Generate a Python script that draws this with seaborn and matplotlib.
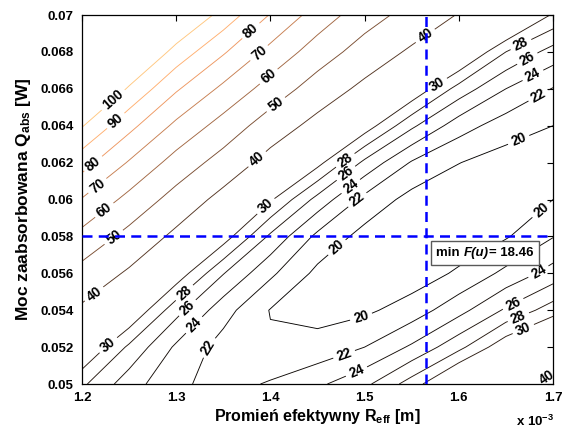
import numpy as np
import matplotlib
matplotlib.use("Agg")
import matplotlib.pyplot as plt
import seaborn as sns
from matplotlib.colors import Normalize
from matplotlib.offsetbox import TextArea, HPacker, AnnotationBbox

# ---------------- data ----------------
# R_eff grid in units of 1e-3 m
r_eff = [1.20, 1.25, 1.30, 1.35, 1.40, 1.45, 1.50, 1.55, 1.60, 1.65, 1.70]
# Q_abs grid in W
q_abs = [0.050, 0.052, 0.054, 0.056, 0.058, 0.060, 0.062, 0.064, 0.066, 0.068, 0.070]

# F(u) values on the grid, one row per Q_abs value
f_q050 = [28.4, 24.9, 22.4, 21.25, 22.2, 23.6, 25.5, 28.9, 33.5, 36.0, 42.0]
f_q052 = [32.4, 27.6, 23.65, 21.2, 20.3, 20.7, 22.0, 24.3, 27.4, 31.5, 35.0]
f_q054 = [38.4, 32.2, 26.7, 22.8, 19.9, 19.3, 19.6, 20.9, 23.3, 26.3, 29.0]
f_q056 = [46.6, 38.7, 31.4, 26.1, 22.4, 19.5, 18.7, 18.9, 20.3, 22.5, 24.8]
f_q058 = [57.0, 47.0, 37.9, 31.1, 25.6, 21.5, 19.3, 18.5, 18.7, 19.8, 21.9]
f_q060 = [69.4, 57.1, 46.2, 37.0, 30.3, 25.3, 21.4, 19.3, 18.6, 18.7, 20.0]
f_q062 = [84.0, 69.1, 56.1, 46.0, 36.6, 30.7, 25.5, 21.8, 20.05, 19.1, 19.35]
f_q064 = [100.7, 82.9, 67.8, 56.1, 45.0, 37.1, 31.2, 26.4, 22.9, 21.0, 20.0]
f_q066 = [119.5, 98.6, 81.2, 67.8, 55.8, 45.3, 37.8, 31.8, 27.2, 24.0, 21.9]
f_q068 = [140.5, 116.1, 96.3, 81.1, 67.1, 55.2, 45.6, 38.6, 33.0, 28.0, 25.2]
f_q070 = [163.6, 135.5, 113.2, 96.2, 79.4, 65.6, 54.5, 46.3, 39.5, 34.4, 29.7]

levels = [20, 22, 24, 26, 28, 30, 40, 50, 60, 70, 80, 90, 100]

min_r = 1.565
min_q = 0.058
min_f = 18.46

x_ticks = [1.2, 1.3, 1.4, 1.5, 1.6, 1.7]
x_tick_labels = ["1.2", "1.3", "1.4", "1.5", "1.6", "1.7"]
y_ticks = [0.05, 0.052, 0.054, 0.056, 0.058, 0.06, 0.062, 0.064, 0.066, 0.068, 0.07]
y_tick_labels = ["0.05", "0.052", "0.054", "0.056", "0.058", "0.06",
                 "0.062", "0.064", "0.066", "0.068", "0.07"]

# contour label placement (layout)
label_pos = {
    100: [(1.233, 0.0654)],
    90: [(1.237, 0.0642)],
    80: [(1.211, 0.0620), (1.380, 0.0691)],
    70: [(1.217, 0.0607), (1.387, 0.0680)],
    60: [(1.224, 0.0594), (1.396, 0.0668)],
    50: [(1.233, 0.0580), (1.405, 0.0652)],
    40: [(1.214, 0.0548), (1.384, 0.0623), (1.564, 0.0689), (1.694, 0.0503)],
    30: [(1.228, 0.0521), (1.394, 0.0597), (1.575, 0.0664), (1.670, 0.0528)],
    28: [(1.306, 0.0551), (1.477, 0.0623), (1.665, 0.0685), (1.665, 0.0534)],
    26: [(1.307, 0.0544), (1.479, 0.0615), (1.672, 0.0677), (1.660, 0.0541)],
    24: [(1.315, 0.0534), (1.484, 0.0608), (1.678, 0.0668), (1.688, 0.0558),
         (1.492, 0.0506)],
    22: [(1.328, 0.0522), (1.492, 0.0600), (1.684, 0.0657), (1.479, 0.0515)],
    20: [(1.469, 0.0575), (1.497, 0.0535), (1.663, 0.0633), (1.688, 0.0594)],
}

# ---------------- style ----------------
sns.set_theme(style="white")
plt.rcParams.update({
    "font.family": ["Liberation Sans", "DejaVu Sans"],
    "font.weight": "bold",
    "axes.labelweight": "bold",
    "mathtext.fontset": "custom",
    "mathtext.rm": "Liberation Sans:bold",
    "mathtext.it": "Liberation Sans:italic:bold",
    "mathtext.bf": "Liberation Sans:bold",
    "mathtext.sf": "Liberation Sans:bold",
    "xtick.direction": "in",
    "ytick.direction": "in",
    "xtick.top": True,
    "ytick.right": True,
    "axes.edgecolor": "black",
    "axes.linewidth": 0.9,
    "xtick.color": "black",
    "ytick.color": "black",
    "text.color": "black",
    "axes.labelcolor": "black",
})

fig = plt.figure(figsize=(5.65, 4.32), dpi=100)
fig.patch.set_facecolor("white")
ax = fig.add_axes([82 / 565, 1 - 384 / 432, 471 / 565, 369 / 432])
ax.set_facecolor("white")

X, Y = np.meshgrid(r_eff, q_abs)
Z = np.array([f_q050, f_q052, f_q054, f_q056, f_q058, f_q060,
              f_q062, f_q064, f_q066, f_q068, f_q070])

cmap = sns.color_palette("copper", as_cmap=True)
norm = Normalize(vmin=min_f, vmax=100)

for lev in levels:
    cs = ax.contour(X, Y, Z, levels=[lev], colors=[cmap(norm(lev))],
                    linewidths=0.65)
    pts = label_pos.get(lev, [])
    if pts:
        ax.clabel(cs, manual=pts, inline=True, inline_spacing=4,
                  fmt="%d", fontsize=9.8, colors="black")

dash = (0, (4, 2.5))
ax.axvline(min_r, color="#0000ff", lw=1.8, ls=dash, zorder=5)
ax.axhline(min_q, color="#0000ff", lw=1.8, ls=dash, zorder=5)

parts = [
    TextArea("min ", textprops=dict(fontsize=9.5, fontweight="bold")),
    TextArea("F(u)", textprops=dict(fontsize=9.5, fontweight="bold", fontstyle="italic")),
    TextArea("= %.2f" % min_f, textprops=dict(fontsize=9.5, fontweight="bold")),
]
box = HPacker(children=parts, align="baseline", pad=0, sep=0)
ab = AnnotationBbox(box, (min_r + 0.0112, min_q - 0.00058), xycoords="data",
                    box_alignment=(0, 1), frameon=True, pad=0.38,
                    bboxprops=dict(edgecolor="0.35", facecolor="white", lw=1.0))
ab.set_zorder(6)
ax.add_artist(ab)

ax.set_xlim(1.2, 1.7)
ax.set_ylim(0.05, 0.07)
ax.set_xticks(x_ticks)
ax.set_xticklabels(x_tick_labels)
ax.set_yticks(y_ticks)
ax.set_yticklabels(y_tick_labels)
ax.tick_params(axis="both", labelsize=9.5, length=4, width=0.8, pad=6)
for s in ax.spines.values():
    s.set_visible(True)
    s.set_color("black")

ax.set_xlabel("Promień efektywny R$_{\\mathrm{eff}}$ [m]", fontsize=11.5, labelpad=2)
ax.set_ylabel("Moc zaabsorbowana Q$_{\\mathrm{abs}}$ [W]", fontsize=12.5, labelpad=5)

fig.text(535 / 565, 1 - 421 / 432, "x 10$^{-3}$", ha="center", va="center",
         fontsize=9.5, fontweight="bold")

fig.savefig("out.png", dpi=100, facecolor="white")
